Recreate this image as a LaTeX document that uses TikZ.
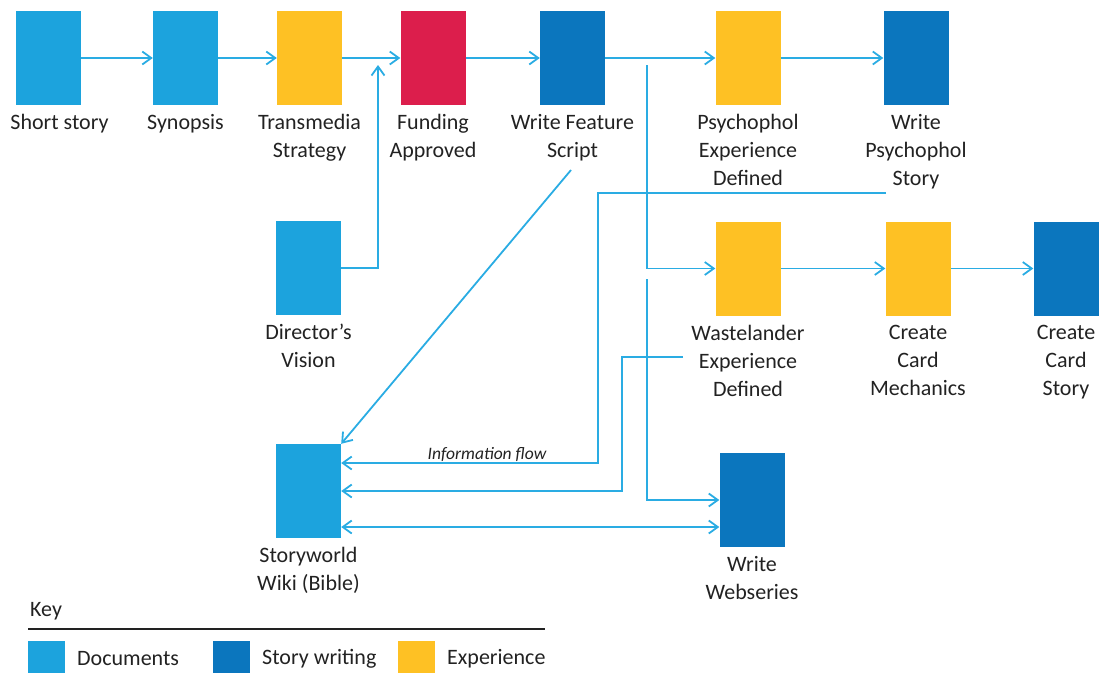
\documentclass[tikz,border=0pt]{standalone}
\usepackage{fontspec}
\setmainfont{Carlito}
\usetikzlibrary{arrows.meta}
\definecolor{docblue}{HTML}{1CA3DD}
\definecolor{storyblue}{HTML}{0B76BE}
\definecolor{expyellow}{HTML}{FEC124}
\definecolor{fundred}{HTML}{DC1E4C}
\definecolor{flowblue}{HTML}{2AACE3}
\definecolor{txt}{HTML}{222222}
\begin{document}
\begin{tikzpicture}[x=1pt,y=-1pt,
  >={Straight Barb[length=9pt,width=13pt]},
  box/.style={rectangle,minimum width=65pt,minimum height=94pt,inner sep=0pt},
  doc/.style={box,fill=docblue},
  wri/.style={box,fill=storyblue},
  expe/.style={box,fill=expyellow},
  fund/.style={box,fill=fundred},
  lbl/.style={anchor=north,align=center,inner sep=0pt,text=txt,
    font=\fontsize{22}{28}\selectfont},
  flow/.style={draw=flowblue,line width=1.8pt,->},
  swatch/.style={rectangle,minimum width=37pt,minimum height=32pt,inner sep=0pt},
  keytxt/.style={anchor=west,inner sep=0pt,text=txt,font=\fontsize{22}{28}\selectfont}
]
\useasboundingbox (0,0) rectangle (1099,673);

% main production chain
\node[doc]  (short) at (48.5,58)  {};
\node[doc]  (syn)   at (185.5,58) {};
\node[expe] (trans) at (309.5,58) {};
\node[fund] (fund)  at (433,58)   {};
\node[wri]  (wfs)   at (572.5,58) {};
\node[expe] (psy)   at (748,58)   {};
\node[wri]  (wps)   at (916,58)   {};

% second row
\node[doc]  (dir)   at (308.5,268) {};
\node[expe] (waste) at (748,268.5) {};
\node[expe] (ccm)   at (918,268.5) {};
\node[wri]  (ccs)   at (1066,268.5) {};

% bottom row
\node[doc]  (story) at (308.5,491) {};
\node[wri]  (web)   at (752,500)   {};

% captions
\node[lbl] (l-short) at ([xshift=11pt,yshift=-9pt]short.south) {Short story};
\node[lbl] (l-syn)   at ([yshift=-9pt]syn.south)   {Synopsis};
\node[lbl] (l-trans) at ([yshift=-9pt]trans.south) {Transmedia\\Strategy};
\node[lbl] (l-fund)  at ([yshift=-9pt]fund.south)  {Funding\\Approved};
\node[lbl] (l-wfs)   at ([yshift=-9pt]wfs.south)   {Write Feature\\Script};
\node[lbl] (l-psy)   at ([yshift=-9pt]psy.south)   {Psychophol\\Experience\\Defined};
\node[lbl] (l-wps)   at ([yshift=-9pt]wps.south)   {Write\\Psychophol\\Story};
\node[lbl] (l-dir)   at ([yshift=-9pt]dir.south)   {Director’s\\Vision};
\node[lbl] (l-waste) at ([yshift=-9pt]waste.south) {Wastelander\\Experience\\Defined};
\node[lbl] (l-ccm)   at ([yshift=-9pt]ccm.south)   {Create\\Card\\Mechanics};
\node[lbl] (l-ccs)   at ([yshift=-9pt]ccs.south)   {Create\\Card\\Story};
\node[lbl] (l-story) at ([yshift=-9pt]story.south) {Storyworld\\Wiki (Bible)};
\node[lbl] (l-web)   at ([yshift=-9pt]web.south)   {Write\\Webseries};

% chain arrows
\draw[flow] (short) -- (syn);
\draw[flow] (syn) -- (trans);
\draw[flow] (trans) -- (fund);
\draw[flow] (fund) -- (wfs);
\draw[flow] (wfs) -- (psy);
\draw[flow] (psy) -- (wps);
\draw[flow] (waste) -- (ccm);
\draw[flow] (ccm) -- (ccs);

% feeders and branches
\coordinate (dj) at (378,65);
\draw[flow] (dir.east) -| (dj);
\coordinate (wj) at (647,65);
\draw[flow] (wj) |- (waste.west);
\coordinate (wk) at (647,279);
\draw[flow] (wk) |- (web.west);

% information flowing back to the wiki
\coordinate (ds) at (571,170);
\draw[flow] (ds) -- (story.north east);
\coordinate (ps) at (886,193);
\coordinate (pc) at (598,463);
\draw[flow] (ps) -| (pc) -- (pc -| story.east);
\node[inner sep=0pt,text=txt,font=\fontsize{17.5}{20}\selectfont\itshape] (info) at (487,454) {Information flow};
\coordinate (ws) at (683,357);
\coordinate (wc) at (622,491);
\draw[flow] (ws) -| (wc) -- (story.east);
\coordinate (dd) at (530,527);
\draw[flow,<->] (dd -| story.east) -- (dd -| web.west);

% key
\node[keytxt] (key) at (30,611) {Key};
\coordinate (kl) at (28,629);
\coordinate (kr) at (545,629);
\draw[line width=1.4pt,draw=txt] (kl) -- (kr);
\node[swatch,fill=docblue]   (k1) at (46.5,657) {};
\node[swatch,fill=storyblue] (k2) at (231.5,657) {};
\node[swatch,fill=expyellow] (k3) at (416.5,657) {};
\node[keytxt] (kt1) at (77,659)  {Documents};
\node[keytxt] (kt2) at (262,659) {Story writing};
\node[keytxt] (kt3) at (447,659) {Experience};
\end{tikzpicture}
\end{document}
